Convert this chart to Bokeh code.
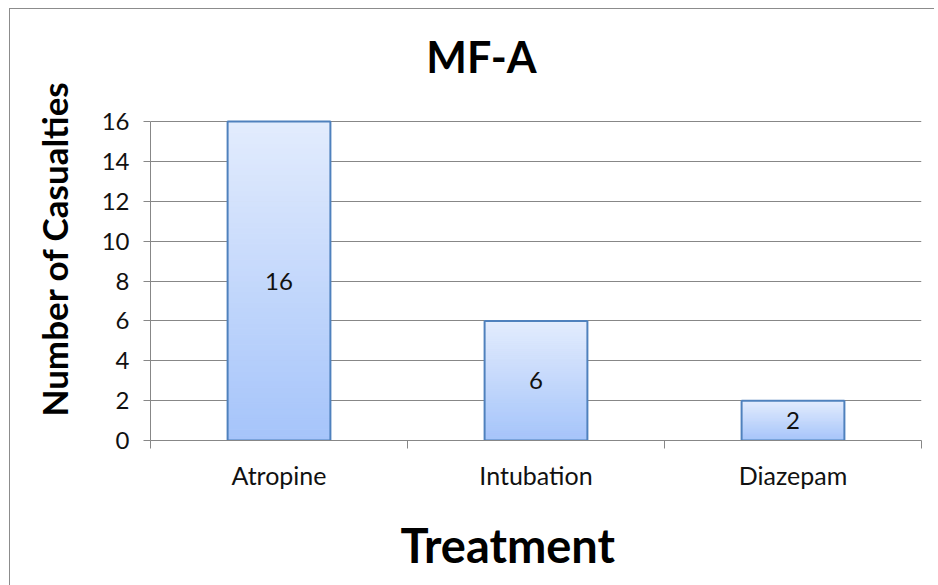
from bokeh.plotting import figure
from bokeh.models import FixedTicker, LabelSet, ColumnDataSource, Title, Label
from bokeh.core.properties import value
from bokeh.embed import file_html
from bokeh.resources import INLINE

# ---- data ----
categories = ["Atropine", "Intubation", "Diazepam"]
casualties = [16, 6, 2]
y_ticks = [0, 2, 4, 6, 8, 10, 12, 14, 16]
title_text = "MF-A"
x_title = "Treatment"
y_title = "Number of Casualties"

FONT = "Lato"
TOP_RGB = (227, 236, 253)
BOT_RGB = (165, 196, 250)
EDGE = "#4F81BD"
GRID = "#878787"

n = len(categories)
xs = [i + 0.5 for i in range(n)]
y_max = y_ticks[-1]

# plot frame: value axis spans 319 px for 0..16, extra headroom holds the title
AXIS_PX = 319
HEAD_PX = 112
p = figure(x_range=(0, n), y_range=(0, y_max * (AXIS_PX + HEAD_PX) / AXIS_PX),
           output_backend="svg", toolbar_location=None, title=None,
           frame_width=771, frame_height=AXIS_PX + HEAD_PX,
           min_border_left=138, min_border_right=13,
           min_border_top=0, min_border_bottom=134)
p.outline_line_color = None
p.background_fill_color = "white"
p.border_fill_color = "white"
p.styles = {"border-left": "1px solid #8c8c8c", "border-top": "1px solid #8c8c8c",
            "margin-left": "9px", "margin-top": "8px"}

# gradient bars built from slices
N = 60
l, r, b, t, cols = [], [], [], [], []
for x, v in zip(xs, casualties):
    for k in range(N):
        f = (k + 0.5) / N  # 0 bottom -> 1 top
        rgb = tuple(int(round(BOT_RGB[j] + (TOP_RGB[j] - BOT_RGB[j]) * f)) for j in range(3))
        l.append(x - 0.2); r.append(x + 0.2)
        b.append(v * k / N); t.append(v * (k + 1) / N)
        cols.append("#%02x%02x%02x" % rgb)
p.quad(left=l, right=r, bottom=b, top=t, fill_color=cols, line_color=cols, line_width=1)
p.quad(left=[x - 0.2 for x in xs], right=[x + 0.2 for x in xs],
       bottom=[0] * n, top=casualties, fill_color=None,
       line_color=EDGE, line_width=2)

# data labels
src = ColumnDataSource(dict(x=xs, y=[v / 2 for v in casualties],
                            txt=[str(v) for v in casualties]))
p.add_layout(LabelSet(x="x", y="y", text="txt", source=src,
                      text_align="center", text_baseline="middle",
                      text_font=value(FONT), text_font_size="24px", text_color="#111111"))

# axes
p.xgrid.grid_line_color = None
p.ygrid.grid_line_color = GRID
p.ygrid.ticker = FixedTicker(ticks=y_ticks)

xa = p.xaxis[0]
xa.ticker = FixedTicker(ticks=xs, minor_ticks=list(range(n + 1)))
xa.major_label_overrides = {x: c for x, c in zip(xs, categories)}
xa.major_tick_out = 0
xa.major_tick_in = 0
xa.minor_tick_out = 8
xa.minor_tick_in = 0
xa.minor_tick_line_color = GRID
xa.axis_line_color = GRID
xa.major_label_standoff = 11
xa.major_label_text_font = FONT
xa.major_label_text_font_size = "25px"
xa.major_label_text_color = "#111111"

ya = p.yaxis[0]
ya.ticker = FixedTicker(ticks=y_ticks)
ya.bounds = (0, y_max)
ya.major_tick_out = 7
ya.major_tick_in = 0
ya.minor_tick_line_color = None
ya.major_tick_line_color = GRID
ya.axis_line_color = GRID
ya.major_label_standoff = 14
ya.major_label_text_font = FONT
ya.major_label_text_font_size = "24px"
ya.major_label_text_color = "#111111"

# chart title inside the headroom of the frame
p.add_layout(Label(x=331, y=384, x_units="screen", y_units="screen",
                   text=title_text, text_align="center", text_baseline="alphabetic",
                   text_font=FONT, text_font_style="bold", text_font_size="43px",
                   text_color="black"))

# axis titles in side panels
p.add_layout(Title(text=y_title, align="left", offset=24, standoff=44,
                   vertical_align="top",
                   text_font=FONT, text_font_style="bold", text_font_size="35px",
                   text_color="black"), "left")
p.add_layout(Title(text=x_title, align="left", offset=250, standoff=45,
                   text_font=FONT, text_font_style="bold", text_font_size="47px",
                   text_color="black"), "below")

open("out.html", "w").write(file_html(p, INLINE))
